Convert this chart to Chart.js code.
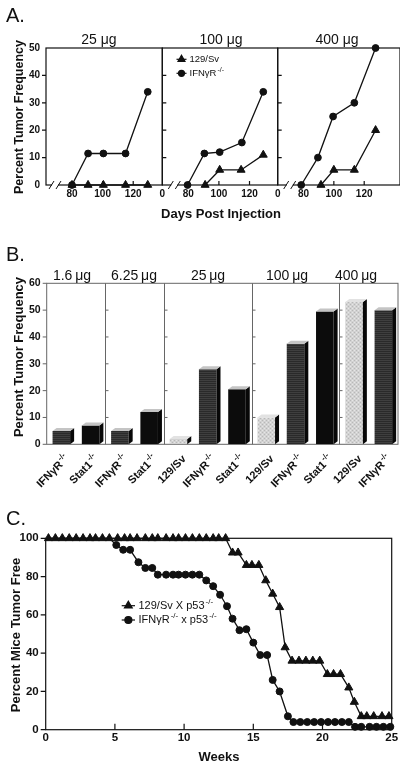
<!DOCTYPE html>
<html>
<head>
<meta charset="utf-8">
<title>Tumor frequency</title>
<script src="https://cdn.jsdelivr.net/npm/chart.js@4/dist/chart.umd.min.js"></script>
<style>
  html, body { margin: 0; background: #fff; }
  #fig { position: relative; width: 400px; height: 767px; overflow: hidden;
         font-family: "Liberation Sans", Arial, Helvetica, sans-serif; color: #111; }
  #fig canvas { position: absolute; left: 0; }
  .lbl { position: absolute; white-space: nowrap; line-height: 1; transform: translate(-50%, -50%); }
  .letter { font-size: 20px; transform: translate(0, -50%); }
  .dose { font-size: 14px; }
  .axis { font-size: 13px; font-weight: bold; }
  .vert { transform: translate(-50%, -50%) rotate(-90deg); }
</style>
</head>
<body>
<div id="fig">
  <canvas id="a0" width="400" height="225" style="top:0"></canvas>
  <canvas id="a1" width="400" height="225" style="top:0"></canvas>
  <canvas id="a2" width="400" height="225" style="top:0"></canvas>
  <canvas id="b" width="400" height="240" style="top:250px"></canvas>
  <canvas id="c" width="400" height="277" style="top:490px"></canvas>

  <div class="lbl letter" style="left:6px;top:15px">A.</div>
  <div class="lbl dose" style="left:99px;top:39px">25 μg</div>
  <div class="lbl dose" style="left:221px;top:39px">100 μg</div>
  <div class="lbl dose" style="left:337px;top:39px">400 μg</div>
  <div class="lbl axis vert" style="left:19px;top:117px;font-size:12.5px">Percent Tumor Frequency</div>
  <div class="lbl axis" style="left:221px;top:213px">Days Post Injection</div>

  <div class="lbl letter" style="left:6px;top:254px">B.</div>
  <div class="lbl dose" style="left:72px;top:275px">1.6&thinsp;μg</div>
  <div class="lbl dose" style="left:134px;top:275px">6.25&thinsp;μg</div>
  <div class="lbl dose" style="left:208px;top:275px">25&thinsp;μg</div>
  <div class="lbl dose" style="left:287px;top:275px">100&thinsp;μg</div>
  <div class="lbl dose" style="left:356px;top:275px">400&thinsp;μg</div>
  <div class="lbl axis vert" style="left:18px;top:357px">Percent Tumor Frequency</div>

  <div class="lbl letter" style="left:6px;top:518px">C.</div>
  <div class="lbl axis vert" style="left:15px;top:635px">Percent Mice Tumor Free</div>
  <div class="lbl axis" style="left:219px;top:756px">Weeks</div>
</div>

<script>
// ---- A: tumour frequency after injection, per dose ----
const aDayTicks = [80, 100, 120];
const aFreqTicks = [0, 10, 20, 30, 40, 50];
const aSvDays = [[80, 90.5, 100.5, 115, 129.5], [91, 100.5, 114.5, 129], [91.5, 100, 113.5, 127.5]];
const aSvFreq = [[0, 0, 0, 0, 0], [0, 5.5, 5.5, 11], [0, 5.5, 5.5, 20]];
const aIfnDays = [[80, 90.5, 100.5, 115, 129.5], [79.5, 90.5, 100.5, 115, 129], [78.5, 89.5, 99.5, 113.5, 127.5]];
const aIfnFreq = [[0, 11.5, 11.5, 11.5, 34], [0, 11.5, 12, 15.5, 34], [0, 10, 25, 30, 50]];

// ---- B: tumour frequency by dose and strain ----
const bDoses = ["1.6", "1.6", "6.25", "6.25", "25", "25", "25", "100", "100", "100", "400", "400"];
const bStrains = ["IFNγR", "Stat1", "IFNγR", "Stat1", "129/Sv", "IFNγR", "Stat1", "129/Sv", "IFNγR", "Stat1", "129/Sv", "IFNγR"];
const bFreq = [5, 7, 5, 12, 2, 28, 20.5, 10, 37.5, 49.5, 53, 50];
const bFreqTicks = [0, 10, 20, 30, 40, 50, 60];

// ---- C: tumour free survival on p53-/- background ----
const cWeekTicks = [0, 5, 10, 15, 20, 25];
const cFreeTicks = [0, 20, 40, 60, 80, 100];
const svWeeks = [0.2, 0.7, 1.2, 1.7, 2.2, 2.7, 3.2, 3.6, 4.1, 4.6, 5.2, 5.7, 6.1, 6.6, 7.2, 7.7, 8.1, 8.7, 9.2, 9.6,
  10.1, 10.6, 11.1, 11.6, 12.1, 12.5, 13.0, 13.5, 13.9, 14.5, 14.9, 15.4, 15.9, 16.4, 16.9, 17.3,
  17.8, 18.3, 18.8, 19.3, 19.8, 20.35, 20.8, 21.3, 21.9, 22.3, 22.8, 23.2, 23.7, 24.3, 24.8];
const svFree = [100, 100, 100, 100, 100, 100, 100, 100, 100, 100, 100, 100, 100, 100, 100, 100, 100, 100, 100, 100,
  100, 100, 100, 100, 100, 100, 100, 92.5, 92.5, 86, 86, 86, 78, 71, 64, 43,
  36, 36, 36, 36, 36, 29, 29, 29, 22, 14.5, 7, 7, 7, 7, 7];
const ifnWeeks = [0.2, 0.7, 1.2, 1.7, 2.2, 2.7, 3.2, 3.6, 4.1, 4.6, 5.1, 5.6, 6.1, 6.7, 7.2, 7.7, 8.1, 8.7, 9.2, 9.6,
  10.1, 10.6, 11.1, 11.6, 12.1, 12.6, 13.1, 13.5, 14.0, 14.5, 15.0, 15.5, 16.0, 16.4, 16.9, 17.5,
  17.9, 18.4, 18.9, 19.4, 19.9, 20.4, 20.9, 21.4, 21.9, 22.35, 22.8, 23.4, 23.9, 24.4, 24.9];
const ifnFree = [100, 100, 100, 100, 100, 100, 100, 100, 100, 100, 96.5, 94, 94, 87.5, 84.5, 84.5, 81, 81, 81, 81,
  81, 81, 81, 78, 75, 70.5, 64.5, 58, 52, 52.5, 45.5, 39, 39, 26, 20, 7,
  4, 4, 4, 4, 4, 4, 4, 4, 4, 1.5, 1.5, 1.5, 1.5, 1.5, 1.5];

const FONT = '"Liberation Sans", Arial, Helvetica, sans-serif';
const INK = "#111";
Chart.defaults.font.family = FONT;
Chart.defaults.color = INK;
Chart.defaults.animation = false;

function pts(xs, ys) {
  return xs.map((x, i) => ({ x: x, y: ys[i] }));
}

function supText(ctx, base, sup, x, y, size, weight) {
  ctx.font = weight + " " + size + "px " + FONT;
  ctx.fillText(base, x, y);
  if (!sup) return;
  const w = ctx.measureText(base).width;
  ctx.font = weight + " " + Math.round(size * 0.72) + "px " + FONT;
  ctx.fillText(sup, x + w + 1, y - size * 0.38);
}

const noGrid = { display: false, drawTicks: false };

// frame round the plot area, small tick marks, optional broken axis
function framePlugin(cfg) {
  return {
    id: "frame",
    beforeDatasetsDraw(chart) {
      const ctx = chart.ctx, a = chart.chartArea;
      const xs = chart.scales.x, ys = chart.scales.y;
      ctx.save();
      ctx.strokeStyle = cfg.color || INK;
      ctx.lineWidth = cfg.width || 1.2;
      ctx.strokeRect(a.left, a.top, a.right - a.left, a.bottom - a.top);
      ctx.beginPath();
      (cfg.yTicks || []).forEach(v => {
        const y = ys.getPixelForValue(v);
        ctx.moveTo(a.left, y); ctx.lineTo(a.left + cfg.yLen, y);
      });
      (cfg.xTicks || []).forEach(v => {
        const x = xs.getPixelForValue(v);
        ctx.moveTo(x, a.bottom); ctx.lineTo(x, a.bottom - cfg.xLen);
      });
      ctx.stroke();
      if (cfg.breakAt) {
        const bx = a.left + cfg.breakAt, by = a.bottom;
        ctx.fillStyle = "#fff";
        ctx.fillRect(bx - 3, by - 2, 6, 4);
        ctx.lineWidth = 1;
        ctx.beginPath();
        ctx.moveTo(bx - 6, by + 4); ctx.lineTo(bx - 1, by - 4);
        ctx.moveTo(bx + 1, by + 4); ctx.lineTo(bx + 6, by - 4);
        ctx.stroke();
      }
      ctx.restore();
    }
  };
}

function legendPlugin(cfg) {
  return {
    id: "markerLegend",
    afterDraw(chart) {
      const ctx = chart.ctx;
      ctx.save();
      ctx.textBaseline = "middle";
      ctx.textAlign = "left";
      cfg.items.forEach((it, i) => {
        const y = cfg.y + i * cfg.gap;
        ctx.strokeStyle = INK; ctx.fillStyle = INK; ctx.lineWidth = 1.2;
        ctx.beginPath(); ctx.moveTo(cfg.x, y); ctx.lineTo(cfg.x + cfg.line, y); ctx.stroke();
        Chart.helpers.drawPoint(ctx, { pointStyle: it.style, radius: it.r, rotation: 0, borderWidth: 1 }, cfg.x + cfg.line / 2, y);
        ctx.fillStyle = INK;
        let x = cfg.x + cfg.line + cfg.pad;
        it.parts.forEach(part => {
          supText(ctx, part[0], part[1], x, y, cfg.size, "normal");
          ctx.font = "normal " + cfg.size + "px " + FONT;
          x += ctx.measureText(part[0]).width;
          if (part[1]) {
            ctx.font = "normal " + Math.round(cfg.size * 0.72) + "px " + FONT;
            x += ctx.measureText(part[1]).width + 1;
          }
        });
      });
      ctx.restore();
    }
  };
}

function lineSet(label, data, style, r) {
  return {
    label: label, data: data, pointStyle: style, pointRadius: r,
    borderColor: INK, borderWidth: 1.3, backgroundColor: INK,
    pointBackgroundColor: INK, pointBorderColor: INK, pointBorderWidth: 1,
    tension: 0, clip: false
  };
}

// ---- panel A: three side by side charts ----
const aAreas = [{ l: 46, r: 162.3 }, { l: 162.3, r: 277.7 }, { l: 277.7, r: 401 }];
const aStart = 63;               // day at the left edge, shown as the broken "0"
const daysPerPx = 20 / 30.6;
aAreas.forEach((area, k) => {
  const yW = k === 0 ? 46 : 0;
  const plugins = [framePlugin({
    yTicks: aFreqTicks.slice(1, -1), yLen: k === 0 ? -4 : 4,
    xTicks: aDayTicks, xLen: 4, breakAt: k === 0 ? 9 : 12
  })];
  if (k === 1) {
    plugins.push(legendPlugin({
      x: 176.5, y: 59.3, gap: 14, line: 10, pad: 3, size: 9.5,
      items: [{ style: "triangle", r: 4, parts: [["129/Sv"]] },
              { style: "circle", r: 3, parts: [["IFNγR", "-/-"]] }]
    }));
  }
  new Chart(document.getElementById("a" + k), {
    type: "line",
    data: {
      datasets: [
        lineSet("129/Sv", pts(aSvDays[k], aSvFreq[k]), "triangle", 4.6),
        lineSet("IFNγR-/-", pts(aIfnDays[k], aIfnFreq[k]), "circle", 3.4)
      ]
    },
    plugins: plugins,
    options: {
      responsive: false,
      layout: { autoPadding: false, padding: { left: area.l - yW, right: 400 - area.r, top: 48, bottom: 15 } },
      plugins: { legend: { display: false }, tooltip: { enabled: false } },
      scales: {
        x: {
          type: "linear", min: aStart, max: aStart + (area.r - area.l) * daysPerPx,
          grid: noGrid, border: { display: false },
          afterBuildTicks: s => { s.ticks = (k ? [aStart] : []).concat(aDayTicks).map(v => ({ value: v })); },
          afterFit: s => { s.height = 25; },
          ticks: { autoSkip: false, maxRotation: 0, padding: 3, font: { size: 10, weight: "bold" },
                   callback: v => (v === aStart ? "0" : v) }
        },
        y: {
          type: "linear", min: 0, max: 50, display: k === 0,
          grid: noGrid, border: { display: false },
          afterBuildTicks: s => { s.ticks = aFreqTicks.map(v => ({ value: v })); },
          afterFit: s => { s.width = yW; },
          ticks: { padding: 6, font: { size: 10, weight: "bold" } }
        }
      }
    }
  });
});

// ---- panel B: 3D looking bars ----
function texture(base, mark, kind) {
  const c = document.createElement("canvas");
  c.width = 4; c.height = 4;
  const g = c.getContext("2d");
  g.fillStyle = base; g.fillRect(0, 0, 4, 4);
  g.fillStyle = mark;
  if (kind === "lines") { g.fillRect(0, 1, 4, 1); g.fillRect(0, 3, 4, 1); }
  else { g.fillRect(0, 0, 1, 1); g.fillRect(2, 2, 1, 1); g.fillStyle = "#e6e6e6"; g.fillRect(2, 0, 1, 1); g.fillRect(0, 2, 1, 1); }
  return g.createPattern(c, "repeat");
}
const strainFill = {
  "129/Sv": texture("#d2d2d2", "#b8b8b8", "dots"),
  "IFNγR": texture("#3f3f3f", "#2a2a2a", "lines"),
  "Stat1": "#0c0c0c"
};

const bar3d = {
  id: "bar3d",
  afterDatasetsDraw(chart) {
    const ctx = chart.ctx, dx = 4, dy = 3;
    ctx.save();
    chart.getDatasetMeta(0).data.forEach((bar, i) => {
      const p = bar.getProps(["x", "y", "base", "width"], true);
      const l = p.x - p.width / 2, r = p.x + p.width / 2;
      ctx.fillStyle = "#080808";
      ctx.beginPath();
      ctx.moveTo(r, p.y); ctx.lineTo(r + dx, p.y - dy); ctx.lineTo(r + dx, p.base - dy); ctx.lineTo(r, p.base);
      ctx.closePath(); ctx.fill();
      ctx.fillStyle = bStrains[i] === "129/Sv" ? "#e2e2e2" : "#c4c4c4";
      ctx.beginPath();
      ctx.moveTo(l, p.y); ctx.lineTo(l + dx, p.y - dy); ctx.lineTo(r + dx, p.y - dy); ctx.lineTo(r, p.y);
      ctx.closePath(); ctx.fill();
    });
    ctx.restore();
  }
};

const doseDividers = {
  id: "doseDividers",
  beforeDatasetsDraw(chart) {
    const ctx = chart.ctx, a = chart.chartArea, xs = chart.scales.x, ys = chart.scales.y;
    ctx.save();
    ctx.strokeStyle = "#666"; ctx.lineWidth = 1;
    ctx.beginPath();
    for (let i = 1; i < bDoses.length; i++) {
      if (bDoses[i] === bDoses[i - 1]) continue;
      const x = Math.round((xs.getPixelForValue(i - 1) + xs.getPixelForValue(i)) / 2) + 0.5;
      ctx.moveTo(x, a.top); ctx.lineTo(x, a.bottom);
      bFreqTicks.slice(1, -1).forEach(v => {
        const y = ys.getPixelForValue(v);
        ctx.moveTo(x, y); ctx.lineTo(x + 3, y);
      });
    }
    ctx.stroke();
    ctx.restore();
  }
};

const strainLabels = {
  id: "strainLabels",
  afterDraw(chart) {
    const ctx = chart.ctx, xs = chart.scales.x, bottom = chart.chartArea.bottom;
    ctx.save();
    ctx.fillStyle = INK; ctx.textBaseline = "middle"; ctx.textAlign = "left";
    bStrains.forEach((s, i) => {
      const sup = s === "129/Sv" ? "" : "-/-";
      ctx.save();
      ctx.translate(xs.getPixelForValue(i) + 6, bottom + 13);
      ctx.rotate(-Math.PI / 4);
      ctx.font = "bold 11px " + FONT;
      const wb = ctx.measureText(s).width;
      ctx.font = "bold 8px " + FONT;
      const ws = sup ? ctx.measureText(sup).width + 1 : 0;
      supText(ctx, s, sup, -(wb + ws), 0, 11, "bold");
      ctx.restore();
    });
    ctx.restore();
  }
};

new Chart(document.getElementById("b"), {
  type: "bar",
  data: {
    labels: bStrains,
    datasets: [{
      label: "Percent Tumor Frequency",
      data: bFreq,
      backgroundColor: bStrains.map(s => strainFill[s]),
      borderWidth: 0,
      barPercentage: 0.6,
      categoryPercentage: 1
    }]
  },
  plugins: [framePlugin({ color: "#666", width: 1, yTicks: bFreqTicks, yLen: -4 }), doseDividers, bar3d, strainLabels],
  options: {
    responsive: false,
    layout: { autoPadding: false, padding: { left: 0, right: 2, top: 33.3, bottom: 5.7 } },
    plugins: { legend: { display: false }, tooltip: { enabled: false } },
    scales: {
      x: {
        grid: noGrid, border: { display: false },
        ticks: { display: false },
        afterFit: s => { s.height = 40; }
      },
      y: {
        min: 0, max: 60,
        grid: noGrid, border: { display: false },
        afterBuildTicks: s => { s.ticks = bFreqTicks.map(v => ({ value: v })); },
        afterFit: s => { s.width = 46.7; },
        ticks: { padding: 6, font: { size: 10.5, weight: "bold" } }
      }
    }
  }
});

// ---- panel C: survival curves ----
const ifnSet = lineSet("IFNγR-/- x p53-/-", pts(ifnWeeks, ifnFree), "circle", 3.5);
// in the original the circles at 100% sit hidden under the triangle row
ifnSet.pointRadius = c => (c.raw && c.raw.y >= 100 ? 0 : 3.5);

new Chart(document.getElementById("c"), {
  type: "line",
  data: {
    datasets: [
      lineSet("129/Sv X p53-/-", pts(svWeeks, svFree), "triangle", 4.7),
      ifnSet
    ]
  },
  plugins: [
    framePlugin({ yTicks: cFreeTicks, yLen: -5, xTicks: cWeekTicks.slice(1, -1), xLen: 6 }),
    legendPlugin({
      x: 121.7, y: 115.7, gap: 14.3, line: 13.3, pad: 3.5, size: 11,
      items: [{ style: "triangle", r: 4.5, parts: [["129/Sv X p53", "-/-"]] },
              { style: "circle", r: 3.5, parts: [["IFNγR", "-/-"], [" x p53", "-/-"]] }]
    })
  ],
  options: {
    responsive: false,
    layout: { autoPadding: false, padding: { left: 0, right: 8.3, top: 48.3, bottom: 17.3 } },
    plugins: { legend: { display: false }, tooltip: { enabled: false } },
    scales: {
      x: {
        type: "linear", min: 0, max: 25,
        grid: noGrid, border: { display: false },
        afterBuildTicks: s => { s.ticks = cWeekTicks.map(v => ({ value: v })); },
        afterFit: s => { s.height = 20; },
        ticks: { padding: 1, maxRotation: 0, font: { size: 11.5, weight: "bold" } }
      },
      y: {
        type: "linear", min: 0, max: 100,
        grid: noGrid, border: { display: false },
        afterBuildTicks: s => { s.ticks = cFreeTicks.map(v => ({ value: v })); },
        afterFit: s => { s.width = 45.7; },
        ticks: { padding: 7, font: { size: 11.5, weight: "bold" } }
      }
    }
  }
});
</script>
</body>
</html>
